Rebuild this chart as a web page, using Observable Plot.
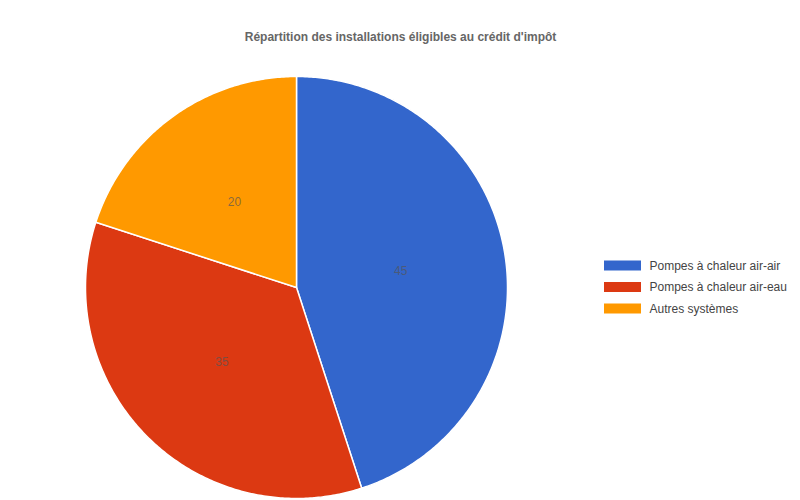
<!DOCTYPE html>
<html>
<head>
<meta charset="utf-8">
<script src="https://cdn.jsdelivr.net/npm/d3@7"></script>
<script src="https://cdn.jsdelivr.net/npm/@observablehq/plot@0.6"></script>
<style>
  html, body { margin: 0; padding: 0; background: #fff; }
  #chart { width: 800px; height: 500px; }
</style>
</head>
<body>
<div id="chart"></div>
<script>
const title = "Répartition des installations éligibles au crédit d'impôt";
const categories = ["Pompes à chaleur air-air", "Pompes à chaleur air-eau", "Autres systèmes"];
const values = [45, 35, 20];
const colors = ["#3366cc", "#dc3912", "#ff9900"];

// Layout (pixels)
const W = 800, H = 500;
const cx = 296, cy = 287, R = 211;

// pie angles (clockwise from top)
const arcs = d3.pie().sort(null).value(d => d.value)(categories.map((c, i) => ({category: c, value: values[i]})));

// polygon vertices in unit coordinates
const poly = [];
arcs.forEach(a => {
  const n = Math.max(2, Math.ceil((a.endAngle - a.startAngle) / 0.01));
  poly.push({category: a.data.category, x: 0, y: 0});
  for (let k = 0; k <= n; k++) {
    const t = a.startAngle + (a.endAngle - a.startAngle) * k / n;
    poly.push({category: a.data.category, x: Math.sin(t), y: Math.cos(t)});
  }
  poly.push({category: a.data.category, x: 0, y: 0});
});

const labels = arcs.map(a => {
  const m = (a.startAngle + a.endAngle) / 2;
  return {category: a.data.category, value: a.data.value, x: 0.5 * Math.sin(m), y: 0.5 * Math.cos(m)};
});

// legend in unit coordinates
const ux = px => (px - cx) / R;
const uy = py => (cy - py) / R;
const legendY = [265.5, 287, 308.5];
const legend = categories.map((c, i) => ({
  category: c,
  x1: ux(604), x2: ux(641),
  y1: uy(legendY[i] - 5), y2: uy(legendY[i] + 5),
  tx: ux(649), ty: uy(legendY[i])
}));

const chart = Plot.plot({
  width: W,
  height: H,
  marginLeft: cx - R,
  marginRight: W - (cx + R),
  marginTop: cy - R,
  marginBottom: H - (cy + R),
  x: {domain: [-1, 1], axis: null},
  y: {domain: [-1, 1], axis: null},
  color: {domain: categories, range: colors},
  style: {fontFamily: "'Liberation Sans', Arial, sans-serif", background: "#fff", overflow: "visible"},
  marks: [
    Plot.line(poly, {x: "x", y: "y", z: "category", fill: "category", stroke: "white", strokeWidth: 1.5, curve: "linear-closed"}),
    Plot.text(labels, {x: "x", y: "y", text: d => String(d.value), fill: "#555", fillOpacity: 0.7, fontSize: 12}),
    Plot.rect(legend, {x1: "x1", x2: "x2", y1: "y1", y2: "y2", fill: "category"}),
    Plot.text(legend, {x: "tx", y: "ty", text: "category", textAnchor: "start", fill: "#444", fontSize: 12}),
    Plot.text([title], {x: ux(400), y: uy(37), text: d => d, fontWeight: "bold", fontSize: 12, fill: "#666"})
  ]
});
document.getElementById("chart").appendChild(chart);
</script>
</body>
</html>
